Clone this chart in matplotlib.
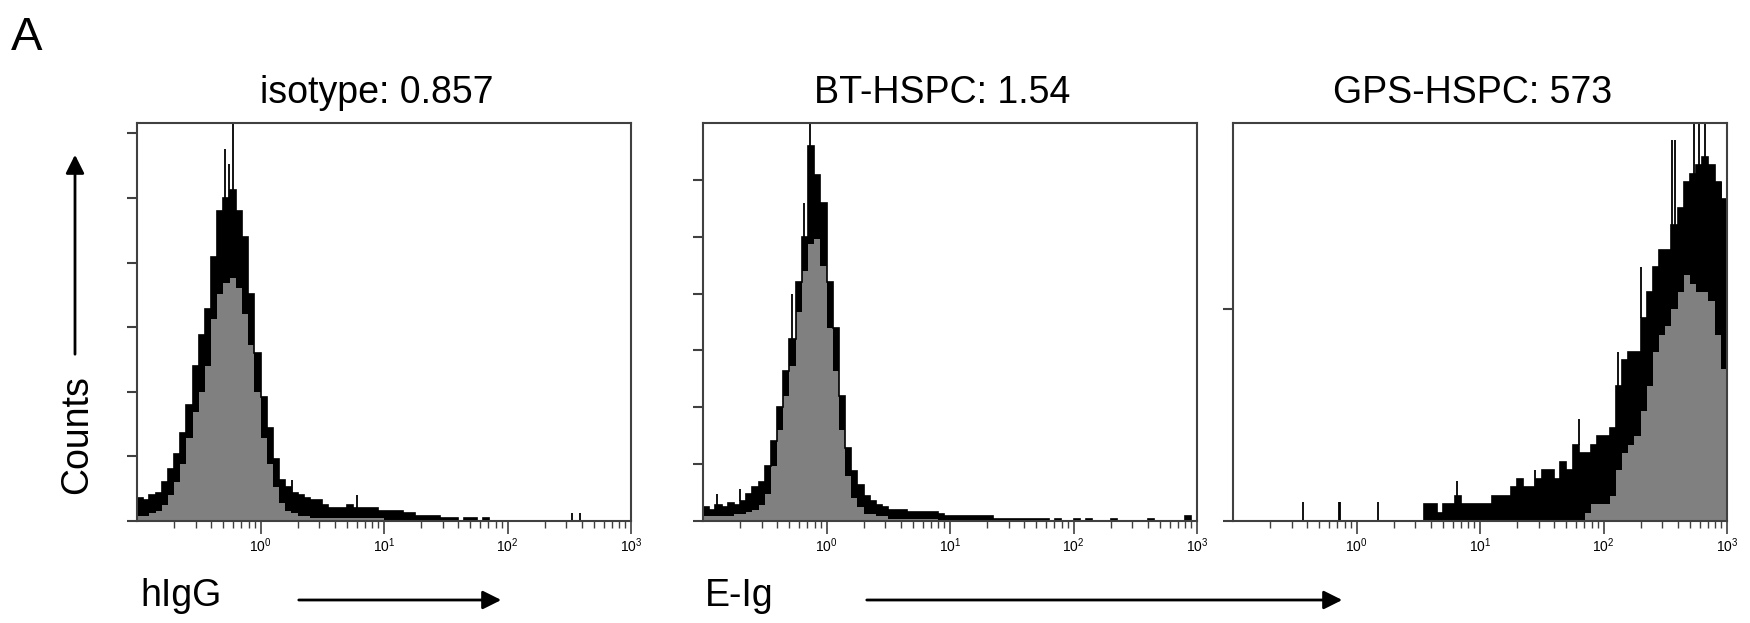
import numpy as np
import matplotlib
matplotlib.use("Agg")
import matplotlib.pyplot as plt
from matplotlib.ticker import FixedLocator, LogLocator, NullFormatter

plt.rcParams['font.family'] = ['Liberation Sans', 'DejaVu Sans']
plt.rcParams['mathtext.fontset'] = 'custom'
plt.rcParams['mathtext.rm'] = 'Liberation Sans'

# histogram bins: 0.05 decade wide, from 10^-1 to 10^3
edges = 10 ** np.linspace(-1, 3, 81)

titles = ["isotype: 0.857", "BT-HSPC: 1.54", "GPS-HSPC: 573"]

# panel 1 (isotype) – top of black outline band and top of grey fill
iso_hi = [9, 8, 10, 11, 15, 20, 26, 34, 45, 60, 72, 82, 102, 120, 125, 128, 120, 110, 88, 65,
          48, 36, 24, 16, 13, 11, 10, 9, 8, 8, 6, 5, 5, 5, 6, 5, 5, 5, 5, 4,
          4, 4, 4, 3, 3, 2, 2, 2, 2, 1, 1, 1, 0, 1, 1, 0, 1, 0, 0, 0,
          0, 0, 0, 0, 0, 0, 0, 0, 0, 0, 0, 0, 0, 0, 0, 0, 0, 0, 0, 0]
iso_lo = [2, 2, 3, 4, 6, 10, 15, 22, 32, 42, 50, 60, 78, 88, 92, 94, 90, 80, 68, 50,
          32, 22, 13, 7, 4, 3, 2, 2, 1, 1, 1, 1, 1, 1, 1, 1, 1, 1, 1, 1,
          0, 0, 0, 0, 0, 0, 0, 0, 0, 0, 0, 0, 0, 0, 0, 0, 0, 0, 0, 0,
          0, 0, 0, 0, 0, 0, 0, 0, 0, 0, 0, 0, 0, 0, 0, 0, 0, 0, 0, 0]
iso_spike_x = [0.52, 0.60, 0.46, 0.68, 0.56, 6.0, 1.8, 330, 390]
iso_spike_h = [144, 154, 112, 120, 138, 10, 16, 3, 3]

# panel 2 (BT-HSPC)
bt_hi = [6, 5, 7, 6, 8, 7, 9, 12, 15, 17, 24, 35, 50, 66, 80, 105, 125, 165, 152, 140,
         105, 85, 55, 32, 22, 16, 11, 9, 7, 6, 5, 5, 5, 4, 4, 4, 4, 4, 3, 2,
         2, 2, 2, 2, 2, 2, 2, 1, 1, 1, 1, 1, 1, 1, 1, 1, 0, 1, 0, 0,
         1, 0, 1, 0, 0, 0, 1, 0, 0, 0, 0, 0, 1, 0, 0, 0, 0, 0, 2, 0]
bt_lo = [2, 2, 2, 2, 2, 3, 3, 4, 5, 7, 12, 24, 40, 55, 68, 92, 110, 122, 124, 112,
         85, 66, 40, 20, 10, 6, 3, 3, 2, 2, 1, 1, 1, 1, 1, 1, 1, 1, 0, 0,
         0, 0, 0, 0, 0, 0, 0, 0, 0, 0, 0, 0, 0, 0, 0, 0, 0, 0, 0, 0,
         0, 0, 0, 0, 0, 0, 0, 0, 0, 0, 0, 0, 0, 0, 0, 0, 0, 0, 0, 0]
bt_spike_x = [0.74, 0.78, 0.66, 0.95, 0.53, 0.13, 0.2]
bt_spike_h = [175, 165, 140, 130, 100, 12, 14]

# panel 3 (GPS-HSPC)
gps_hi = [0, 0, 0, 0, 0, 0, 0, 0, 0, 0, 0, 0, 0, 0, 0, 0, 0, 0, 0, 0,
          0, 0, 0, 0, 0, 0, 0, 0, 0, 0, 0, 2, 2, 1, 2, 2, 3, 2, 2, 2,
          2, 2, 3, 3, 3, 4, 5, 4, 4, 5, 6, 6, 5, 7, 6, 9, 8, 8, 9, 10,
          10, 11, 16, 19, 20, 20, 24, 27, 30, 32, 32, 35, 37, 40, 41, 42, 43, 42, 40, 38]
gps_lo = [0, 0, 0, 0, 0, 0, 0, 0, 0, 0, 0, 0, 0, 0, 0, 0, 0, 0, 0, 0,
          0, 0, 0, 0, 0, 0, 0, 0, 0, 0, 0, 0, 0, 0, 0, 0, 0, 0, 0, 0,
          0, 0, 0, 0, 0, 0, 0, 0, 0, 0, 0, 0, 0, 0, 0, 0, 0, 1, 2, 2,
          2, 3, 6, 8, 9, 10, 13, 16, 20, 22, 23, 25, 27, 29, 28, 27, 27, 26, 22, 18]
gps_spike_x = [0.37, 0.72, 0.74, 1.48, 6.5, 28, 63, 130, 200, 361, 380, 537, 589, 661, 900]
gps_spike_h = [2.3, 2.3, 2.3, 2.3, 4.7, 6, 12, 20, 30, 45, 45, 47, 47, 47, 40]

ylims = [154, 175, 47]
yticks = [[0, 25, 50, 75, 100, 125, 150], [0, 25, 50, 75, 100, 125, 150], [0, 25]]

fig = plt.figure(figsize=(17.5, 6.23), dpi=100)
W, H = 1750, 623
lefts = [137, 703, 1233]
width = 494
bottom_px, top_px = 521, 123

data = [(iso_hi, iso_lo, iso_spike_x, iso_spike_h),
        (bt_hi, bt_lo, bt_spike_x, bt_spike_h),
        (gps_hi, gps_lo, gps_spike_x, gps_spike_h)]

for i, (hi, lo, sx, sh) in enumerate(data):
    ax = fig.add_axes([lefts[i] / W, 1 - bottom_px / H, width / W, (bottom_px - top_px) / H])
    ax.stairs(lo, edges, fill=True, color='#808080', lw=0)
    ax.stairs(hi, edges, baseline=lo, fill=True, color='black', lw=0)
    ax.stairs(hi, edges, color='black', lw=1.2)
    # single-channel spikes rise from the local band top
    idx = np.clip(np.searchsorted(edges, sx) - 1, 0, len(hi) - 1)
    base = np.minimum(np.array(hi)[idx], sh)
    ax.vlines(sx, base, sh, color='black', lw=1.3)
    ax.set_xscale('log')
    ax.set_xlim(0.1, 1000)
    ax.set_ylim(0, ylims[i])
    ax.xaxis.set_major_locator(FixedLocator([1, 10, 100, 1000]))
    ax.set_xticklabels([r'$10^{0}$', r'$10^{1}$', r'$10^{2}$', r'$10^{3}$'], fontsize=10)
    ax.xaxis.set_minor_locator(LogLocator(base=10, subs=np.arange(2, 10), numticks=20))
    ax.xaxis.set_minor_formatter(NullFormatter())
    ax.set_yticks(yticks[i])
    ax.set_yticklabels([])
    ax.tick_params(axis='x', which='major', direction='out', length=9, width=1.2, color='#404040', pad=2)
    ax.tick_params(axis='x', which='minor', direction='out', length=5, width=1.0, color='#404040')
    ax.tick_params(axis='y', direction='out', length=7, width=1.5, color='#404040')
    for s in ax.spines.values():
        s.set_color('#404040')
        s.set_linewidth(1.5)
    ax.text(0.485, 1.05, titles[i], transform=ax.transAxes, ha='center', va='baseline', fontsize=27)

# panel letter
fig.text(11 / W, 1 - 50 / H, "A", fontsize=34, ha='left', va='baseline')

# Counts axis label with arrow
fig.text(77 / W, 1 - 435 / H, "Counts", rotation=90, fontsize=27, ha='center', va='center')
fig.add_artist(plt.Annotation("", xy=(75 / W, 1 - 152 / H), xytext=(75 / W, 1 - 357 / H),
                              xycoords='figure fraction', textcoords='figure fraction',
                              arrowprops=dict(arrowstyle='-|>', lw=2, color='black', mutation_scale=28)))

# x labels with arrows
fig.text(140 / W, 1 - 596 / H, "hIgG", fontsize=27, ha='left', va='center')
fig.add_artist(plt.Annotation("", xy=(504 / W, 1 - 600 / H), xytext=(296 / W, 1 - 600 / H),
                              xycoords='figure fraction', textcoords='figure fraction',
                              arrowprops=dict(arrowstyle='-|>', lw=2, color='black', mutation_scale=28)))
fig.text(705 / W, 1 - 596 / H, "E-Ig", fontsize=27, ha='left', va='center')
fig.add_artist(plt.Annotation("", xy=(1345 / W, 1 - 600 / H), xytext=(864 / W, 1 - 600 / H),
                              xycoords='figure fraction', textcoords='figure fraction',
                              arrowprops=dict(arrowstyle='-|>', lw=2, color='black', mutation_scale=28)))

fig.savefig("out.png", dpi=100)
